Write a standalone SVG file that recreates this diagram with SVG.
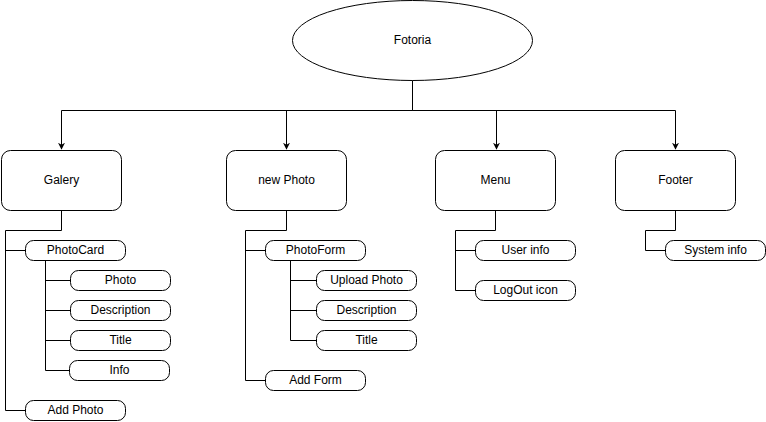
<svg xmlns="http://www.w3.org/2000/svg" width="766" height="422" viewBox="0 0 766 422">
<style>
.n{fill:#fff;stroke:#000;stroke-width:1}
.t{font-family:"Liberation Sans",Arial,sans-serif;font-size:12px;fill:#000;text-anchor:middle;dominant-baseline:central}
.c{fill:none;stroke:#000;stroke-width:1}
</style>
<defs>
<marker id="a" viewBox="0 0 10 10" refX="9" refY="5" markerWidth="7" markerHeight="7" markerUnits="userSpaceOnUse" orient="auto">
<path d="M0,0 L10,5 L0,10 L3,5 Z" fill="#000"/>
</marker>
</defs>
<rect width="766" height="422" fill="#fff"/>
<g id="connectors">
<path class="c" d="M412.5,80 V110.5 H61.5 V149" marker-end="url(#a)"/>
<path class="c" d="M412.5,110.5 H286.5 V149" marker-end="url(#a)"/>
<path class="c" d="M412.5,110.5 H496.5 V149" marker-end="url(#a)"/>
<path class="c" d="M412.5,110.5 H675.5 V149" marker-end="url(#a)"/>
<path class="c" d="M61.5,210 V230.5 H5.5 V410.5 H25"/>
<path class="c" d="M5.5,250.5 H25"/>
<path class="c" d="M45.5,260 V370.5 H69"/>
<path class="c" d="M45.5,280.5 H70"/>
<path class="c" d="M45.5,310.5 H70"/>
<path class="c" d="M45.5,340.5 H70"/>
<path class="c" d="M286.5,210 V230.5 H245.5 V380.5 H265"/>
<path class="c" d="M245.5,250.5 H265"/>
<path class="c" d="M290.5,260 V340.5 H316"/>
<path class="c" d="M290.5,280.5 H316"/>
<path class="c" d="M290.5,310.5 H316"/>
<path class="c" d="M495.5,210 V230.5 H455.5 V290.5 H475"/>
<path class="c" d="M455.5,250.5 H475"/>
<path class="c" d="M675.5,210 V230.5 H645.5 V250.5 H665"/>
</g>
<g id="fotoria"><ellipse class="n" cx="412.5" cy="40.5" rx="120" ry="40"/><text class="t" x="412.5" y="39.5">Fotoria</text></g>
<g id="galery"><rect class="n" x="1.5" y="150.5" width="120" height="60" rx="9"/><text class="t" x="61.5" y="179.5">Galery</text></g>
<g id="newphoto"><rect class="n" x="226.5" y="150.5" width="120" height="60" rx="9"/><text class="t" x="286.5" y="179.5">new Photo</text></g>
<g id="menu"><rect class="n" x="435.5" y="150.5" width="120" height="60" rx="9"/><text class="t" x="495.5" y="179.5">Menu</text></g>
<g id="footer"><rect class="n" x="615.5" y="150.5" width="120" height="60" rx="9"/><text class="t" x="675.5" y="179.5">Footer</text></g>
<g id="photocard"><rect class="n" x="25.5" y="240.5" width="100" height="20" rx="8"/><text class="t" x="75.5" y="249.5">PhotoCard</text></g>
<g id="photo"><rect class="n" x="70.5" y="270.5" width="100" height="20" rx="8"/><text class="t" x="120.5" y="279.5">Photo</text></g>
<g id="description1"><rect class="n" x="70.5" y="300.5" width="100" height="20" rx="8"/><text class="t" x="120.5" y="309.5">Description</text></g>
<g id="title1"><rect class="n" x="70.5" y="330.5" width="100" height="20" rx="8"/><text class="t" x="120.5" y="339.5">Title</text></g>
<g id="info"><rect class="n" x="69.5" y="360.5" width="100" height="20" rx="8"/><text class="t" x="119.5" y="369.5">Info</text></g>
<g id="addphoto"><rect class="n" x="25.5" y="400.5" width="100" height="20" rx="8"/><text class="t" x="75.5" y="409.5">Add Photo</text></g>
<g id="photoform"><rect class="n" x="265.5" y="240.5" width="100" height="20" rx="8"/><text class="t" x="315.5" y="249.5">PhotoForm</text></g>
<g id="uploadphoto"><rect class="n" x="316.5" y="270.5" width="100" height="20" rx="8"/><text class="t" x="366.5" y="279.5">Upload Photo</text></g>
<g id="description2"><rect class="n" x="316.5" y="300.5" width="100" height="20" rx="8"/><text class="t" x="366.5" y="309.5">Description</text></g>
<g id="title2"><rect class="n" x="316.5" y="330.5" width="100" height="20" rx="8"/><text class="t" x="366.5" y="339.5">Title</text></g>
<g id="addform"><rect class="n" x="265.5" y="370.5" width="100" height="20" rx="8"/><text class="t" x="315.5" y="379.5">Add Form</text></g>
<g id="userinfo"><rect class="n" x="475.5" y="240.5" width="100" height="20" rx="8"/><text class="t" x="525.5" y="249.5">User info</text></g>
<g id="logout"><rect class="n" x="475.5" y="280.5" width="100" height="20" rx="8"/><text class="t" x="525.5" y="289.5">LogOut icon</text></g>
<g id="systeminfo"><rect class="n" x="665.5" y="240.5" width="100" height="20" rx="8"/><text class="t" x="715.5" y="249.5">System info</text></g>
</svg>
